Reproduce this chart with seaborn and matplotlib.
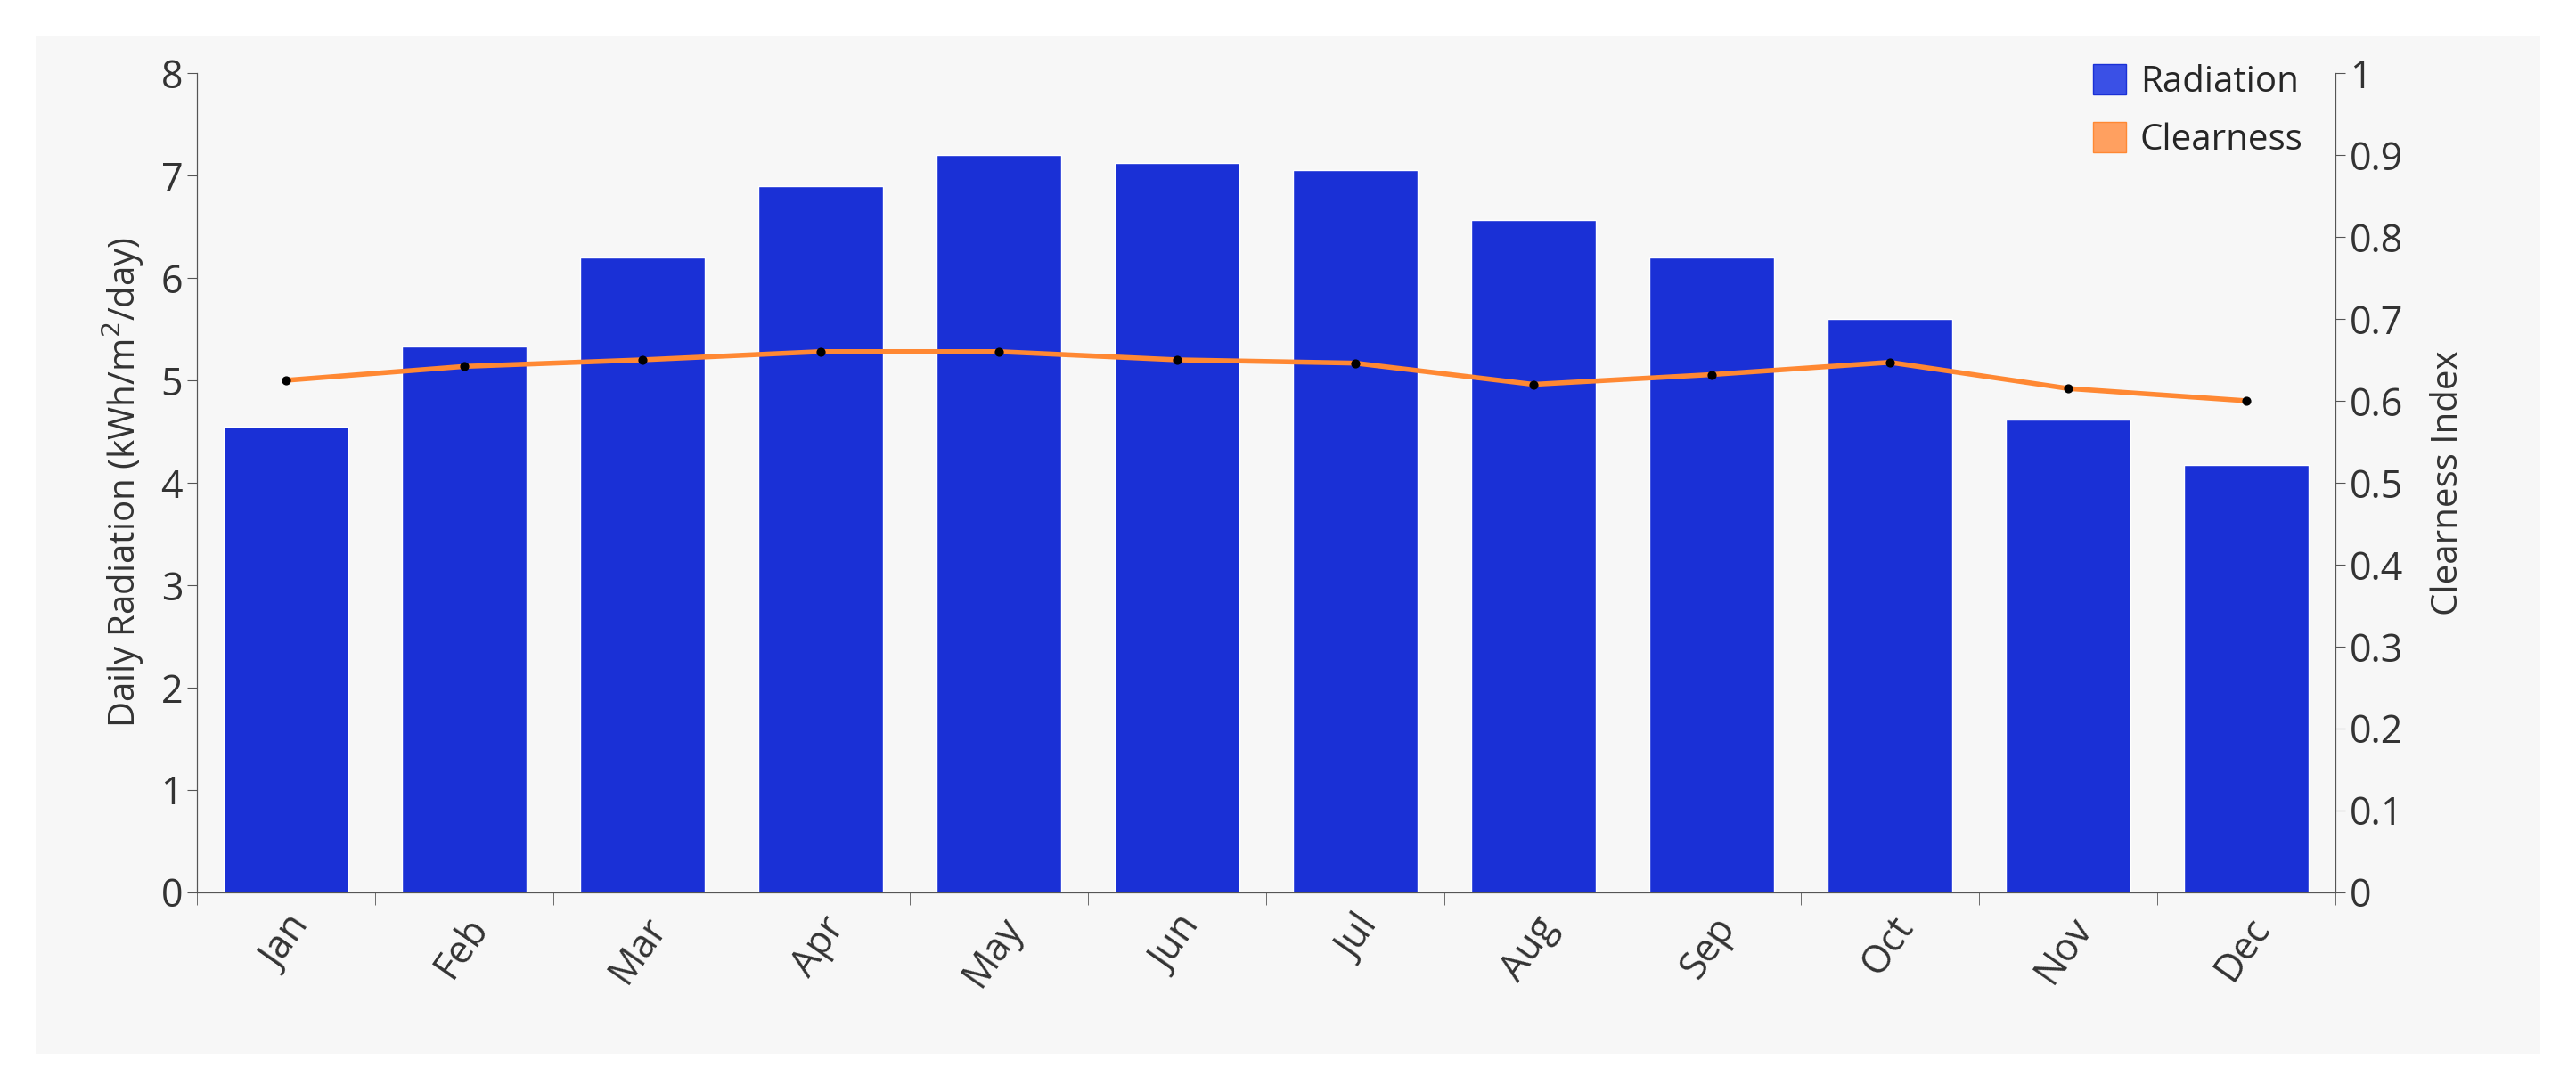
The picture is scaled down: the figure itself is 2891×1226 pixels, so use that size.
import matplotlib
matplotlib.use("Agg")
import matplotlib.pyplot as plt
import matplotlib.patches as mpatches
import seaborn as sns
import pandas as pd

months = ["Jan", "Feb", "Mar", "Apr", "May", "Jun", "Jul", "Aug", "Sep", "Oct", "Nov", "Dec"]
radiation = [4.55, 5.33, 6.2, 6.9, 7.2, 7.12, 7.05, 6.57, 6.2, 5.6, 4.62, 4.17]
clearness = [0.625, 0.642, 0.65, 0.66, 0.66, 0.65, 0.646, 0.62, 0.632, 0.647, 0.615, 0.60]

df = pd.DataFrame({"Month": months, "Radiation": radiation, "Clearness": clearness})

sns.set_style("white")
plt.rcParams["font.family"] = ["Open Sans", "DejaVu Sans"]

fig = plt.figure(figsize=(28.91, 12.26), dpi=100)
fig.patches.append(mpatches.Rectangle((0.014, 0.035), 0.972, 0.932, transform=fig.transFigure,
                                      facecolor="#f7f7f7", edgecolor="none", zorder=-1))
ax = fig.add_axes([0.0765, 0.183, 0.83, 0.75])
ax.set_facecolor("#f7f7f7")

bar_color = "#1a30d6"
line_color = "#ff8833"
sns.barplot(data=df, x="Month", y="Radiation", color=bar_color, saturation=1, width=0.7, ax=ax)
ax.set_ylim(0, 8)
ax.set_xlim(-0.5, 11.5)
ax.set_ylabel("Daily Radiation (kWh/m$^2$/day)", fontsize=29, color="#333333", labelpad=12)
ax.set_xlabel("")
ax.tick_params(axis="y", labelsize=31, length=8, color="#555555", direction="out", left=True)
ax.tick_params(axis="x", which="major", labelsize=31, length=0, pad=14)
ax.set_xticks([i - 0.5 for i in range(13)], minor=True)
ax.tick_params(axis="x", which="minor", length=10, color="#555555", direction="out", bottom=True)
plt.setp(ax.get_xticklabels(), rotation=55, ha="right", rotation_mode="anchor", color="#333333")
plt.setp(ax.get_yticklabels(), color="#333333")

ax2 = ax.twinx()
sns.lineplot(x=list(range(12)), y=clearness, color=line_color, linewidth=4, ax=ax2)
ax2.scatter(range(12), clearness, color="black", s=40, zorder=5)
ax2.set_ylim(0, 1)
ax2.set_yticks([i / 10 for i in range(11)])
ax2.set_yticklabels(["0"] + [f"{i/10:g}" for i in range(1, 10)] + ["1"])
ax2.set_ylabel("Clearness Index", fontsize=29, color="#333333", labelpad=22)
ax2.tick_params(axis="y", labelsize=31, length=8, color="#555555", direction="out", right=True)
plt.setp(ax2.get_yticklabels(), color="#333333")

for a in (ax, ax2):
    a.spines["top"].set_visible(False)
    a.spines["left"].set_color("#555555")
    a.spines["right"].set_color("#555555")
    a.spines["bottom"].set_color("#555555")

handles = [mpatches.Patch(facecolor="#3a50e6", edgecolor="#1a30d6", label="Radiation"),
           mpatches.Patch(facecolor="#ffa060", edgecolor="#ff8833", label="Clearness")]
ax2.legend(handles=handles, loc="upper right", bbox_to_anchor=(1.0, 1.05), frameon=False,
           fontsize=29, handlelength=0.9, handleheight=0.9, labelspacing=0.6, handletextpad=0.4)

fig.savefig("out.png", dpi=100, facecolor="white")
